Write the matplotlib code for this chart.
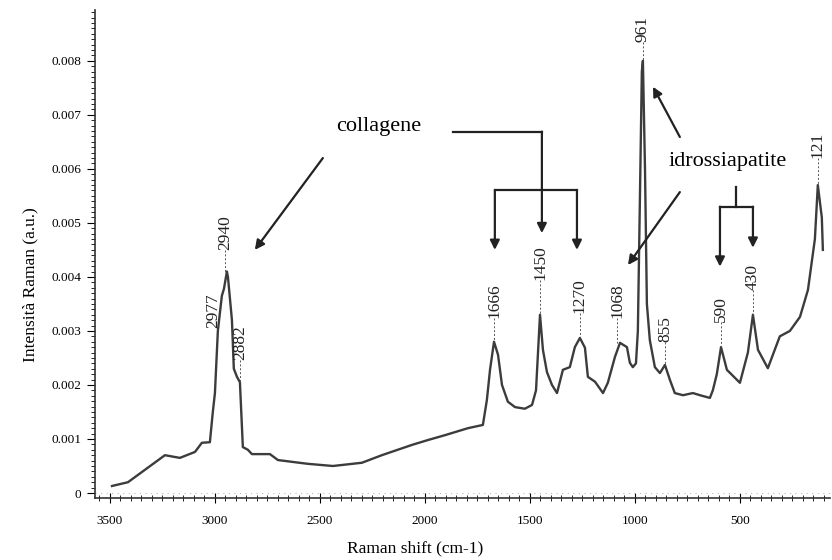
import numpy as np
import matplotlib
matplotlib.use("Agg")
import matplotlib.pyplot as plt
from matplotlib.ticker import MultipleLocator, FuncFormatter

plt.rcParams['font.family'] = ['Liberation Serif', 'DejaVu Serif']

# Raman spectrum (wavenumber in cm-1, intensity in a.u.)
shift = [3490, 3414, 3333, 3238, 3167, 3095, 3062, 3024, 3010, 3000, 2986, 2967,
         2957, 2943, 2938, 2919, 2910, 2895, 2881, 2867, 2843, 2824, 2738, 2700,
         2619, 2557, 2438, 2300, 2205, 2062, 1986, 1905, 1795, 1724, 1705, 1690,
         1671, 1652, 1633, 1605, 1571, 1524, 1490, 1471, 1452, 1438, 1419, 1395,
         1371, 1343, 1310, 1286, 1262, 1238, 1224, 1190, 1152, 1129, 1095, 1071,
         1038, 1024, 1010, 995, 986, 976, 967, 962, 952, 943, 929, 905,
         881, 857, 833, 810, 771, 724, 690, 643, 629, 610, 590, 562,
         500, 462, 438, 414, 367, 310, 262, 214, 176, 143, 129, 110, 105]
intensity = [0.00013, 0.00020, 0.00043, 0.00070, 0.00065, 0.00076, 0.00093, 0.00094,
             0.00150, 0.00185, 0.00300, 0.00365, 0.00378, 0.00410, 0.00400, 0.00320,
             0.00230, 0.00215, 0.00205, 0.00085, 0.00080, 0.00072, 0.00072, 0.00061,
             0.00057, 0.00054, 0.00050, 0.00056, 0.00070, 0.00089, 0.00098, 0.00107,
             0.00120, 0.00126, 0.00172, 0.00228, 0.00280, 0.00256, 0.00200, 0.00169,
             0.00159, 0.00156, 0.00163, 0.00190, 0.00330, 0.00265, 0.00224, 0.00200,
             0.00185, 0.00228, 0.00233, 0.00270, 0.00287, 0.00269, 0.00215, 0.00206,
             0.00185, 0.00204, 0.00252, 0.00278, 0.00270, 0.00241, 0.00233, 0.00240,
             0.00300, 0.00550, 0.00780, 0.00800, 0.00600, 0.00350, 0.00283, 0.00233,
             0.00222, 0.00237, 0.00209, 0.00185, 0.00181, 0.00185, 0.00181, 0.00176,
             0.00190, 0.00220, 0.00270, 0.00228, 0.00204, 0.00260, 0.00330, 0.00265,
             0.00231, 0.00290, 0.00300, 0.00326, 0.00376, 0.00470, 0.00570, 0.00510,
             0.00450]

# peak labels: text, x position, bottom of label, top of curve under it
peak_text = ['2977', '2940', '2882', '1666', '1450', '1270', '1068', '961', '855', '590', '430', '121']
peak_x = [3010, 2950, 2881, 1671, 1452, 1262, 1085, 962, 857, 590, 438, 129]
peak_label_y = [0.00306, 0.00450, 0.00246, 0.00324, 0.00395, 0.00333, 0.00324, 0.00834, 0.00280, 0.00317, 0.00376, 0.00620]
peak_y = [0.00306, 0.00410, 0.00205, 0.00280, 0.00330, 0.00287, 0.00278, 0.00800, 0.00237, 0.00270, 0.00330, 0.00570]

fig = plt.figure(figsize=(8.32, 5.6), dpi=100)
ax = fig.add_axes([0.1142, 0.1107, 0.8834, 0.8714])

ax.plot(shift, intensity, color='#3c3c3c', lw=1.7)
ax.axhline(0, color='#bbbbbb', lw=0.8, ls=(0, (1, 4)))

for t, x, ly, py in zip(peak_text, peak_x, peak_label_y, peak_y):
    ax.text(x, ly, t, rotation=90, ha='center', va='bottom', fontsize=12.5, color='#222222')
    if ly > py:
        ax.plot([x, x], [ly, py], color='#555555', lw=0.7, ls=(0, (2, 2)))

# collagene annotation
ax.text(2219, 0.00678, 'collagene', ha='center', va='center', fontsize=16)
arr = dict(arrowstyle='-|>', color='#222222', lw=1.6, mutation_scale=14, shrinkA=0, shrinkB=0)
ax.annotate('', xy=(2810, 0.0045), xytext=(2486, 0.0062), arrowprops=arr)
ax.plot([1867, 1443], [0.00669, 0.00669], color='#222222', lw=1.6)
ax.annotate('', xy=(1443, 0.00481), xytext=(1443, 0.00669), arrowprops=arr)
ax.plot([1667, 1276], [0.00561, 0.00561], color='#222222', lw=1.6)
ax.annotate('', xy=(1667, 0.0045), xytext=(1667, 0.00561), arrowprops=arr)
ax.annotate('', xy=(1276, 0.0045), xytext=(1276, 0.00561), arrowprops=arr)

# idrossiapatite annotation
ax.text(557, 0.00613, 'idrossiapatite', ha='center', va='center', fontsize=16)
ax.annotate('', xy=(914, 0.00752), xytext=(786, 0.00659), arrowprops=arr)
ax.annotate('', xy=(1033, 0.00422), xytext=(786, 0.00557), arrowprops=arr)
ax.plot([519, 519], [0.00567, 0.0053], color='#222222', lw=1.6)
ax.plot([595, 438], [0.0053, 0.0053], color='#222222', lw=1.6)
ax.annotate('', xy=(595, 0.00419), xytext=(595, 0.0053), arrowprops=arr)
ax.annotate('', xy=(438, 0.00454), xytext=(438, 0.0053), arrowprops=arr)

ax.set_xlim(3571, 71)
ax.set_ylim(-0.0000926, 0.00894)
ax.spines['top'].set_visible(False)
ax.spines['right'].set_visible(False)
for s in ['left', 'bottom']:
    ax.spines[s].set_color('#333333')
    ax.spines[s].set_linewidth(1.2)

ax.xaxis.set_major_locator(MultipleLocator(500))
ax.xaxis.set_minor_locator(MultipleLocator(50))
ax.yaxis.set_major_locator(MultipleLocator(0.001))
ax.yaxis.set_minor_locator(MultipleLocator(0.0001))
ax.yaxis.set_major_formatter(FuncFormatter(lambda v, p: '0' if abs(v) < 1e-9 else '%.3f' % v))
ax.tick_params(axis='x', which='major', direction='inout', length=7, labelsize=9.5, pad=9)
ax.tick_params(axis='x', which='minor', direction='inout', length=4)
ax.tick_params(axis='y', which='major', direction='out', length=6, labelsize=9.5, pad=4)
ax.tick_params(axis='y', which='minor', direction='out', length=3)

fig.text(415 / 832, 1 - 548 / 560, 'Raman shift (cm-1)', ha='center', va='center', fontsize=12.5)
fig.text(30 / 832, 1 - 285 / 560, 'Intensità Raman (a.u.)', ha='center', va='center',
         rotation=90, fontsize=12.5)

fig.savefig('out.png', dpi=100)
